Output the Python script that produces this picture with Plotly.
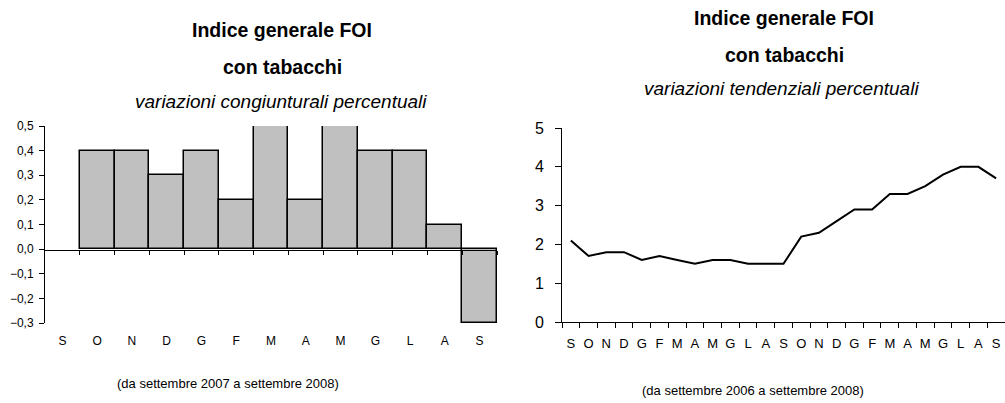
import plotly.graph_objects as go

# variazioni congiunturali (set 2007 - set 2008), il primo mese non ha valore
mesi_cong = ["S", "O", "N", "D", "G", "F", "M", "A", "M", "G", "L", "A", "S"]
var_cong = [None, 0.4, 0.4, 0.3, 0.4, 0.2, 0.5, 0.2, 0.5, 0.4, 0.4, 0.1, -0.3]

# variazioni tendenziali (set 2006 - set 2008)
mesi_tend = ["S", "O", "N", "D", "G", "F", "M", "A", "M", "G", "L", "A"] * 2 + ["S"]
var_tend = [2.1, 1.7, 1.8, 1.8, 1.6, 1.7, 1.6, 1.5, 1.6, 1.6, 1.5, 1.5, 1.5,
            2.2, 2.3, 2.6, 2.9, 2.9, 3.3, 3.3, 3.5, 3.8, 4.0, 4.0, 3.7]

TITOLO = "Indice generale FOI"
SOTTOTITOLO = "con tabacchi"
SUB_CONG = "variazioni congiunturali percentuali"
SUB_TEND = "variazioni tendenziali percentuali"
NOTA_CONG = "(da settembre 2007 a settembre 2008)"
NOTA_TEND = "(da settembre 2006 a settembre 2008)"

FONT = "Liberation Sans, Arial, sans-serif"
W, H = 1005, 403


def px_x(v):
    return v / W


def px_y(v):
    return 1 - v / H


x_cong = list(range(len(mesi_cong)))
x_tend = list(range(len(mesi_tend)))

fig = go.Figure()
fig.add_trace(go.Bar(
    x=x_cong, y=var_cong, xaxis="x", yaxis="y", width=1,
    marker=dict(color="#c0c0c0", line=dict(color="black", width=1.5)),
    hoverinfo="y", showlegend=False,
))
# traccia vuota per l'asse dello zero con le tacche
fig.add_trace(go.Scatter(x=[], y=[], xaxis="x3", yaxis="y", showlegend=False, hoverinfo="skip"))
fig.add_trace(go.Scatter(
    x=x_tend, y=var_tend, xaxis="x2", yaxis="y2", mode="lines",
    line=dict(color="black", width=2), showlegend=False,
))

axis_common = dict(showgrid=False, zeroline=False, linecolor="black", tickcolor="black",
                   automargin=False)

fig.update_layout(
    template="none",
    width=W, height=H,
    margin=dict(l=0, r=0, t=0, b=0, pad=0),
    paper_bgcolor="white", plot_bgcolor="white",
    separators=",.",
    bargap=0,
    xaxis=dict(**axis_common, domain=[px_x(45), px_x(497)], range=[-0.5, len(mesi_cong) - 0.5],
               tickmode="array", tickvals=x_cong, ticktext=mesi_cong, showline=False, ticks="",
               tickfont=dict(family=FONT, size=12, color="black"),
               ticklabelstandoff=9, anchor="y"),
    xaxis3=dict(**axis_common, overlaying="x", anchor="free", position=px_y(250),
                range=[-0.5, len(mesi_cong) - 0.5], showline=True, linewidth=1,
                ticks="outside", ticklen=4, tickmode="array",
                tickvals=[i + 0.5 for i in x_cong], showticklabels=False),
    yaxis=dict(**axis_common, domain=[px_y(323), px_y(126)], range=[-0.3, 0.5],
               tick0=0, dtick=0.1, tickformat=".1f", showline=True, ticks="outside",
               ticklen=5, ticklabelstandoff=3,
               tickfont=dict(family=FONT, size=12, color="black"), anchor="x"),
    xaxis2=dict(**axis_common, domain=[px_x(562), px_x(1005)], range=[-0.5, len(mesi_tend) - 0.5],
                tickmode="array", tickvals=x_tend, ticktext=mesi_tend, showline=True, ticks="",
                minor=dict(tickmode="array", tickvals=[i - 0.5 for i in x_tend],
                           ticks="outside", ticklen=5, tickcolor="black"),
                tickfont=dict(family=FONT, size=13, color="black"),
                ticklabelstandoff=9, anchor="y2"),
    yaxis2=dict(**axis_common, domain=[px_y(322), px_y(128)], range=[0, 5], dtick=1,
                showline=True, ticks="outside", ticklen=6, ticklabelstandoff=8,
                tickfont=dict(family=FONT, size=16, color="black"), anchor="x2"),
)

annots = [
    (282, 30, f"<b>{TITOLO}</b>", 19.5, "normal"),
    (282, 67, f"<b>{SOTTOTITOLO}</b>", 19.5, "normal"),
    (281, 102, SUB_CONG, 19, "italic"),
    (784, 18, f"<b>{TITOLO}</b>", 19.5, "normal"),
    (784, 55, f"<b>{SOTTOTITOLO}</b>", 19.5, "normal"),
    (781, 88, SUB_TEND, 19, "italic"),
    (228, 383, NOTA_CONG, 13, "normal"),
    (753, 390, NOTA_TEND, 13, "normal"),
]
for x, y, txt, size, style in annots:
    fig.add_annotation(x=px_x(x), y=px_y(y), xref="paper", yref="paper", text=txt,
                       showarrow=False, xanchor="center", yanchor="middle",
                       font=dict(family=FONT, size=size, color="black", style=style))

fig.write_html("out.html", config={"displayModeBar": False},
               post_script="document.body.style.margin = '0';")
